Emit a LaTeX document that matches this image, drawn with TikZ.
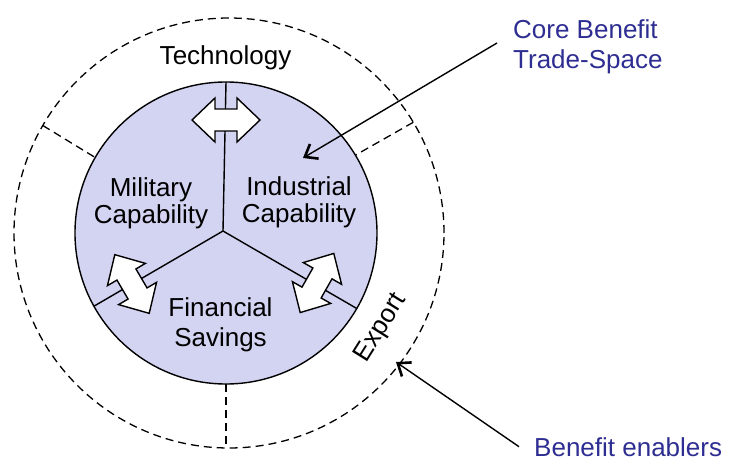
\documentclass[tikz,border=0pt]{standalone}
\usepackage{fontspec}
\setmainfont{Liberation Sans}
\usetikzlibrary{arrows.meta}
\definecolor{corefill}{RGB}{211,211,242}
\definecolor{labelblue}{RGB}{46,46,146}

\begin{document}
\begin{tikzpicture}[x=1pt,y=1pt,
  ringline/.style={line width=1.3pt, dash pattern=on 8pt off 5pt},
  solidline/.style={line width=1.4pt},
  sector/.style={font=\fontsize{26}{27}\selectfont, inner sep=0pt, align=center},
  sectorwide/.style={font=\fontsize{26}{30}\selectfont, inner sep=0pt, align=center},
  note/.style={font=\fontsize{26}{30}\selectfont, inner sep=0pt, align=left, text=labelblue},
  pointer/.style={line width=1.4pt, -{Straight Barb[length=11pt,width=17pt,line width=2.6pt]}},
  dblarrow/.pic={
    \draw[line width=1.4pt, fill=white, line join=miter]
      (-34,0) -- (-11,22) -- (-11,11) -- (11,11) -- (11,22) -- (34,0)
      -- (11,-22) -- (11,-11) -- (-11,-11) -- (-11,-22) -- cycle;
  }
]
\useasboundingbox (0,0) rectangle (729,459);

% outer ring of benefit enablers
\node[circle, ringline, draw, minimum size=430pt, inner sep=0pt, outer sep=0pt] (outer) at (229,226) {};
\draw[ringline] (outer.150) -- (95.2,301.5) coordinate (lb);
\draw[ringline] (outer.31) -- (355.4,303.8) coordinate (rb);

% core trade-space
\node[circle, solidline, draw, fill=corefill, minimum size=302pt, inner sep=0pt, outer sep=0pt] (core) at (226,226) {};
\draw[ringline] (core.270) -- (core.270 |- outer.270);

% sector boundaries
\coordinate (hub) at (223,228);
\draw[solidline] (hub) -- (core.90);
\draw[solidline] (hub) -- (core.209);
\draw[solidline] (hub) -- (core.-30);

% trade-off arrows
\pic (ta) at (226,339) {dblarrow};
\pic[rotate=120.4] (la) at (132,175) {dblarrow};
\pic[rotate=60.4] (ra) at (317,176) {dblarrow};

% labels
\node[sector, anchor=base] (tech) at (225.5,394) {Technology};
\node[sector] (mil) at (151,256) {Military\\Capability};
\node[sector] (ind) at (299,257) {Industrial\\Capability};
\node[sectorwide] (fin) at (220.5,134.5) {Financial\\Savings};
\node[sector, rotate=58] (exp) at (381,131) {Export};

% callouts
\node[note, anchor=west] (cb) at (513,412) {Core Benefit\\Trade-Space};
\node[note, anchor=base west] (be) at (534,3) {Benefit enablers};
\coordinate (cbtip) at (303,301);
\coordinate (betip) at (396,97);
\draw[pointer] ([shift={(-16,4)}]cb.west) -- (cbtip);
\draw[pointer] ([xshift=-15pt]be.west) -- (betip);
\end{tikzpicture}
\end{document}
